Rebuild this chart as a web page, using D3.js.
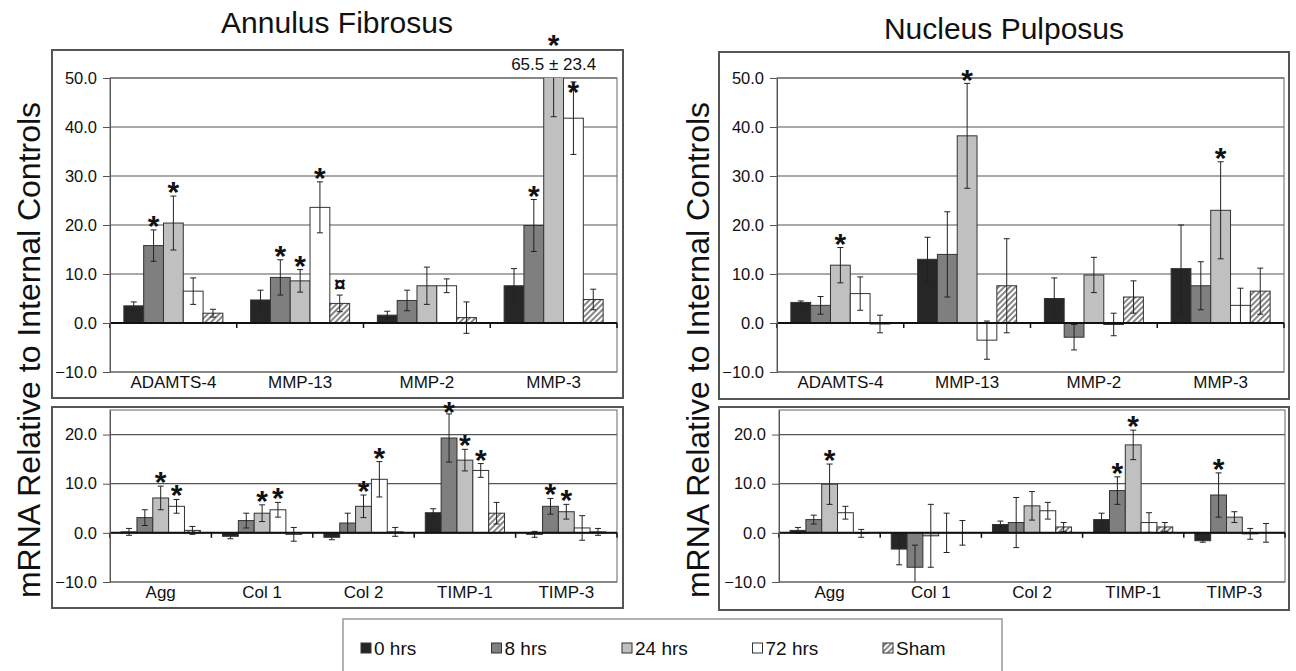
<!DOCTYPE html>
<html>

<head>
  <meta charset="utf8">
  <script src="https://d3js.org/d3.v7.min.js"></script>
  <style>
    body { margin: 0; background: #fff; }
    text { font-family: "Liberation Sans", Arial, sans-serif; fill: #111; }
    .tick line { stroke: #555; }
  </style>
</head>

<body>
  <svg id="chart" width="1296" height="671" viewBox="0 0 1296 671"></svg>

  <script>
    var seriesNames = ['0 hrs', '8 hrs', '24 hrs', '72 hrs', 'Sham'];
    var seriesFill = ['#262626', '#7f7f7f', '#c0c0c0', '#ffffff', 'url(#hatch)'];

    var topGenes = ['ADAMTS-4', 'MMP-13', 'MMP-2', 'MMP-3'];
    var bottomGenes = ['Agg', 'Col 1', 'Col 2', 'TIMP-1', 'TIMP-3'];
    var topTicks = [-10, 0, 10, 20, 30, 40, 50];
    var bottomTicks = [-10, 0, 10, 20];

    // rows = genes, columns = series (0, 8, 24, 72 hrs, Sham)
    var afTopMean = [
      [3.5, 15.8, 20.4, 6.5, 2.0],
      [4.7, 9.3, 8.6, 23.6, 4.0],
      [1.6, 4.6, 7.6, 7.6, 1.1],
      [7.6, 19.9, 65.5, 41.8, 4.8]
    ];
    var afTopErr = [
      [0.8, 3.2, 5.5, 2.7, 0.8],
      [2.0, 3.6, 2.3, 5.2, 1.7],
      [0.8, 2.1, 3.8, 1.4, 3.2],
      [3.5, 5.3, 23.4, 7.4, 2.1]
    ];
    var afTopMark = [
      ['', '*', '*', '', ''],
      ['', '*', '*', '*', '¤'],
      ['', '', '', '', ''],
      ['', '*', '*', '*', '']
    ];

    var afBotMean = [
      [0.2, 3.1, 7.1, 5.4, 0.5],
      [-0.7, 2.5, 4.0, 4.7, -0.3],
      [-0.9, 2.0, 5.4, 10.9, 0.2],
      [4.1, 19.3, 14.8, 12.7, 4.0],
      [-0.3, 5.4, 4.3, 1.0, 0.2]
    ];
    var afBotErr = [
      [0.7, 1.6, 2.4, 1.4, 0.8],
      [0.5, 1.5, 1.7, 1.5, 1.4],
      [0.5, 2.0, 2.3, 3.6, 0.9],
      [0.8, 4.9, 2.2, 1.4, 2.2],
      [0.6, 1.6, 1.5, 2.5, 0.7]
    ];
    var afBotMark = [
      ['', '', '*', '*', ''],
      ['', '', '*', '*', ''],
      ['', '', '*', '*', ''],
      ['', '*', '*', '*', ''],
      ['', '*', '*', '', '']
    ];

    var npTopMean = [
      [4.2, 3.6, 11.8, 6.0, -0.2],
      [13.0, 14.0, 38.2, -3.5, 7.6],
      [5.0, -2.9, 9.8, -0.3, 5.3],
      [11.1, 7.6, 23.0, 3.6, 6.5]
    ];
    var npTopErr = [
      [0.3, 1.8, 3.6, 3.4, 1.8],
      [4.5, 8.7, 10.7, 3.9, 9.6],
      [4.2, 2.6, 3.6, 2.3, 3.3],
      [8.9, 4.9, 9.9, 3.5, 4.7]
    ];
    var npTopMark = [
      ['', '', '*', '', ''],
      ['', '', '*', '', ''],
      ['', '', '', '', ''],
      ['', '', '*', '', '']
    ];

    var npBotMean = [
      [0.5, 2.7, 9.9, 4.1, -0.1],
      [-3.3, -7.0, -0.6, 0.0, 0.0],
      [1.7, 2.1, 5.5, 4.5, 1.2],
      [2.7, 8.6, 17.9, 2.1, 1.2],
      [-1.6, 7.7, 3.2, -0.2, 0.0]
    ];
    var npBotErr = [
      [0.6, 0.9, 4.1, 1.3, 0.8],
      [3.2, 4.5, 6.4, 4.0, 2.5],
      [0.7, 5.1, 2.9, 1.7, 0.9],
      [1.3, 2.8, 3.0, 2.0, 0.9],
      [0.3, 4.5, 1.1, 1.1, 1.9]
    ];
    var npBotMark = [
      ['', '', '*', '', ''],
      ['', '', '', '', ''],
      ['', '', '', '', ''],
      ['', '*', '*', '', ''],
      ['', '*', '', '', '']
    ];

    var panels = [
      { id: 'aft', box: [52, 50, 623, 398], plot: [110, 78, 617, 372], domain: [-10, 50], ticks: topTicks,
        genes: topGenes, mean: afTopMean, err: afTopErr, mark: afTopMark },
      { id: 'afb', box: [52, 407, 623, 608], plot: [110, 410, 617, 582], domain: [-10, 25], ticks: bottomTicks,
        genes: bottomGenes, mean: afBotMean, err: afBotErr, mark: afBotMark },
      { id: 'npt', box: [719, 52, 1289, 399], plot: [777, 78, 1284, 372], domain: [-10, 50], ticks: topTicks,
        genes: topGenes, mean: npTopMean, err: npTopErr, mark: npTopMark },
      { id: 'npb', box: [719, 407, 1289, 610], plot: [779, 410, 1285, 582], domain: [-10, 25], ticks: bottomTicks,
        genes: bottomGenes, mean: npBotMean, err: npBotErr, mark: npBotMark }
    ];

    var chart = d3.select('#chart');
    var defs = chart.append('defs');

    var hatch = defs.append('pattern')
      .attr('id', 'hatch')
      .attr('width', 4)
      .attr('height', 4)
      .attr('patternUnits', 'userSpaceOnUse')
      .attr('patternTransform', 'rotate(45)');
    hatch.append('rect').attr('width', 4).attr('height', 4).attr('fill', '#fff');
    hatch.append('line').attr('x1', 1).attr('x2', 1).attr('y1', 0).attr('y2', 4)
      .attr('stroke', '#444').attr('stroke-width', 1.3);

    var fmt = d3.format('.1f');

    panels.forEach(function (p) {
      var left = p.plot[0], top = p.plot[1], right = p.plot[2], bottom = p.plot[3];

      chart.append('rect')
        .attr('x', p.box[0]).attr('y', p.box[1])
        .attr('width', p.box[2] - p.box[0]).attr('height', p.box[3] - p.box[1])
        .attr('fill', '#fff').attr('stroke', '#555').attr('stroke-width', 2);

      defs.append('clipPath').attr('id', 'clip-' + p.id)
        .append('rect')
        .attr('x', left).attr('y', top)
        .attr('width', right - left).attr('height', bottom - top);

      var y = d3.scaleLinear().domain(p.domain).range([bottom, top]);
      var x0 = d3.scaleBand().domain(p.genes).range([left, right]);
      var x1 = d3.scaleBand().domain(seriesNames).range([0, x0.bandwidth()]).paddingOuter(0.7);

      var g = chart.append('g');

      // gridlines
      g.append('g').selectAll('line')
        .data(p.ticks)
        .enter()
        .append('line')
        .attr('x1', left).attr('x2', right)
        .attr('y1', function (d) { return y(d); })
        .attr('y2', function (d) { return y(d); })
        .attr('stroke', '#555').attr('stroke-width', 1.2);

      // plot area border
      g.append('rect')
        .attr('x', left).attr('y', top)
        .attr('width', right - left).attr('height', bottom - top)
        .attr('fill', 'none').attr('stroke', '#666').attr('stroke-width', 1);

      var rows = [];
      p.genes.forEach(function (gene, gi) {
        seriesNames.forEach(function (s, si) {
          rows.push({ gene: gene, series: s, si: si, m: p.mean[gi][si], e: p.err[gi][si], mark: p.mark[gi][si] });
        });
      });

      var cx = function (d) { return x0(d.gene) + x1(d.series) + x1.bandwidth() / 2; };
      var capW = 3;

      var inner = g.append('g').attr('clip-path', 'url(#clip-' + p.id + ')');

      inner.selectAll('rect.bar')
        .data(rows)
        .enter()
        .append('rect')
        .attr('class', 'bar')
        .attr('x', function (d) { return x0(d.gene) + x1(d.series); })
        .attr('y', function (d) { return y(Math.max(0, d.m)); })
        .attr('width', x1.bandwidth())
        .attr('height', function (d) { return Math.abs(y(d.m) - y(0)); })
        .attr('fill', function (d) { return seriesFill[d.si]; })
        .attr('stroke', '#333')
        .attr('stroke-width', 1);

      var eb = inner.selectAll('g.err')
        .data(rows)
        .enter()
        .append('g')
        .attr('class', 'err')
        .attr('stroke', '#222')
        .attr('stroke-width', 1);
      eb.append('line')
        .attr('x1', cx).attr('x2', cx)
        .attr('y1', function (d) { return y(d.m - d.e); })
        .attr('y2', function (d) { return y(d.m + d.e); });
      eb.append('line')
        .attr('x1', function (d) { return cx(d) - capW; })
        .attr('x2', function (d) { return cx(d) + capW; })
        .attr('y1', function (d) { return y(d.m + d.e); })
        .attr('y2', function (d) { return y(d.m + d.e); });
      eb.append('line')
        .attr('x1', function (d) { return cx(d) - capW; })
        .attr('x2', function (d) { return cx(d) + capW; })
        .attr('y1', function (d) { return y(d.m - d.e); })
        .attr('y2', function (d) { return y(d.m - d.e); });

      // zero line with group separators
      g.append('line')
        .attr('x1', left).attr('x2', right)
        .attr('y1', y(0)).attr('y2', y(0))
        .attr('stroke', '#111').attr('stroke-width', 2);
      g.append('g').selectAll('line')
        .data(p.genes.map(function (gene) { return x0(gene); }).concat([right]))
        .enter()
        .append('line')
        .attr('x1', function (d) { return d; }).attr('x2', function (d) { return d; })
        .attr('y1', y(0)).attr('y2', y(0) + 5)
        .attr('stroke', '#111').attr('stroke-width', 1.5);

      // y axis
      var yAxis = g.append('g')
        .attr('transform', 'translate(' + left + ',0)')
        .call(d3.axisLeft(y).tickValues(p.ticks).tickFormat(fmt).tickSize(7).tickSizeOuter(0).tickPadding(6));
      yAxis.select('.domain').attr('stroke', '#555');
      yAxis.selectAll('text').style('font-size', '16.5px').attr('fill', '#111');

      // category labels
      var xAxis = g.append('g')
        .attr('transform', 'translate(0,' + bottom + ')')
        .call(d3.axisBottom(x0).tickSize(0).tickPadding(4));
      xAxis.select('.domain').remove();
      xAxis.selectAll('text').style('font-size', '17px').attr('fill', '#111');

      // values beyond the axis range
      var over = rows.filter(function (d) { return d.m > p.domain[1]; });
      g.selectAll('text.over')
        .data(over)
        .enter()
        .append('text')
        .attr('class', 'over')
        .attr('x', cx)
        .attr('y', top - 8)
        .attr('text-anchor', 'middle')
        .style('font-size', '17px')
        .text(function (d) { return fmt(d.m) + ' ± ' + fmt(d.e); });

      // significance marks (kept inside the plot when a label sits above it)
      var minC = over.length ? top + 7 : top - 5;
      g.selectAll('text.mark')
        .data(rows.filter(function (d) { return d.mark !== ''; }))
        .enter()
        .append('text')
        .attr('class', 'mark')
        .attr('x', cx)
        .attr('y', function (d) {
          if (d.m > p.domain[1]) return top - 40 + 17;
          var c = Math.max(y(d.m + d.e) - 11, minC);
          return d.mark === '*' ? c + 17 : c + 7;
        })
        .attr('text-anchor', 'middle')
        .style('font-size', function (d) { return d.mark === '*' ? '30px' : '21px'; })
        .style('font-weight', 'bold')
        .text(function (d) { return d.mark; });
    });

    // panel titles
    chart.append('text').attr('x', 337).attr('y', 33).attr('text-anchor', 'middle')
      .style('font-size', '30px').text('Annulus Fibrosus');
    chart.append('text').attr('x', 1004).attr('y', 39).attr('text-anchor', 'middle')
      .style('font-size', '30px').text('Nucleus Pulposus');

    // y axis titles
    [40, 709].forEach(function (xt) {
      chart.append('text')
        .attr('transform', 'translate(' + xt + ',350) rotate(-90)')
        .attr('text-anchor', 'middle')
        .style('font-size', '32px')
        .text('mRNA Relative to Internal Controls');
    });

    // legend
    var legend = chart.append('g');
    legend.append('rect')
      .attr('x', 343).attr('y', 619).attr('width', 659).attr('height', 70)
      .attr('fill', '#fff').attr('stroke', '#999').attr('stroke-width', 1.5);
    var item = legend.selectAll('g.item')
      .data(seriesNames)
      .enter()
      .append('g')
      .attr('class', 'item')
      .attr('transform', function (d, i) { return 'translate(' + (361 + i * 130.5) + ',0)'; });
    item.append('rect')
      .attr('x', 0).attr('y', 643).attr('width', 10).attr('height', 10)
      .attr('fill', function (d, i) { return seriesFill[i]; })
      .attr('stroke', '#333').attr('stroke-width', 1);
    item.append('text')
      .attr('x', 13).attr('y', 655)
      .style('font-size', '19px')
      .text(function (d) { return d; });
  </script>
</body>

</html>
